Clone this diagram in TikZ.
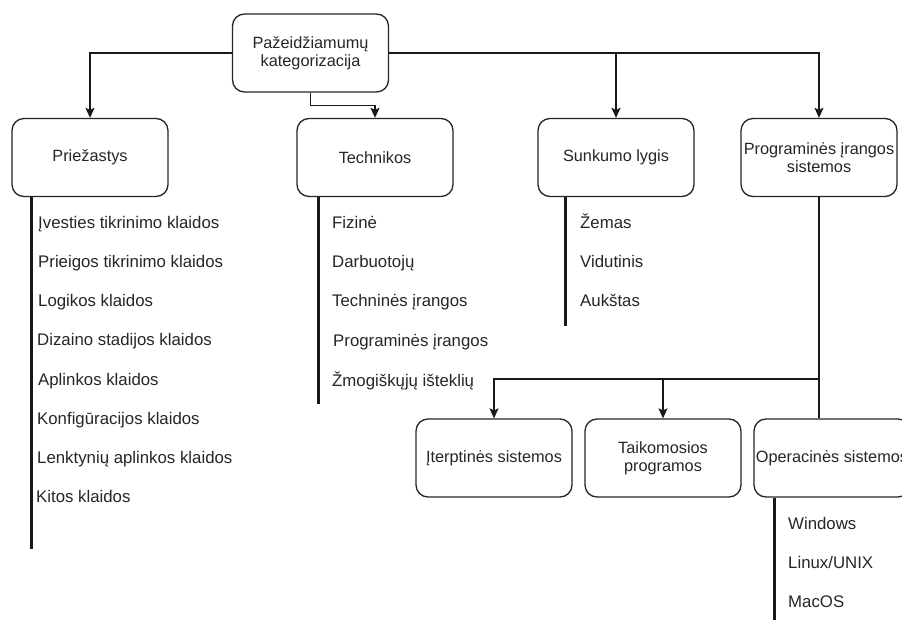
\documentclass[tikz,border=0pt]{standalone}
\usepackage{fontspec}
\setmainfont{Liberation Sans}
\usetikzlibrary{arrows.meta}
\begin{document}
\begin{tikzpicture}[x=1pt,y=-1pt,
  box/.style={draw=black!85, line width=1.3pt, rounded corners=12pt,
    minimum width=156pt, minimum height=78pt, align=center, inner sep=0pt,
    text=black!85, font=\fontsize{16.3}{18}\selectfont},
  item/.style={anchor=base west, inner sep=0pt, text=black!85,
    font=\fontsize{16.8}{18}\selectfont},
  link/.style={draw=black!90, line width=1.3pt},
  arr/.style={link, -{Stealth[length=10pt,width=9pt,inset=2pt]}},
  bar/.style={draw=black!90, line width=3pt}]
\clip (0,0) rectangle (902,620);
\fill[white] (0,0) rectangle (902,620);

% category boxes
\node[box] (root) at (310.5,53)  {Pažeidžiamumų\\kategorizacija};
\node[box] (pz)   at (90,157.5)  {Priežastys};
\node[box] (te)   at (375,157.5) {Technikos};
\node[box] (su)   at (616,157.5) {Sunkumo lygis};
\node[box] (pg)   at (819,157.5) {Programinės įrangos\\sistemos};
\node[box] (it)   at (494,458)   {Įterptinės sistemos};
\node[box] (ta)   at (663,458)   {Taikomosios\\programos};
\node[box] (op)   at (832,458)   {Operacinės sistemos};

% connectors from the root
\draw[arr] (root.west) -| (pz.north);
\draw[arr] (root.south) -- ++(0,13) -| (te.north);
\draw[arr] (root.east) -| (su.north);
\draw[arr] (root.east) -| (pg.north);

% software systems split
\coordinate (split) at (819,379);
\draw[link] (pg.south) -- (pg.south |- op.north);
\draw[arr] (split) -| (it.north);
\draw[arr] (ta.north |- split) -- (ta.north);

% list bars
\coordinate (pzend) at (31,549);
\coordinate (teend) at (318,404);
\coordinate (suend) at (565,326);
\coordinate (opend) at (774,620);
\draw[bar] (pz.south -| pzend) -- (pzend);
\draw[bar] (te.south -| teend) -- (teend);
\draw[bar] (su.south -| suend) -- (suend);
\draw[bar] (op.south -| opend) -- (opend);

% causes
\node[item] (p1) at (38,229) {Įvesties tikrinimo klaidos};
\node[item] (p2) at (38,268) {Prieigos tikrinimo klaidos};
\node[item] (p3) at (38,306) {Logikos klaidos};
\node[item] (p4) at (37,345) {Dizaino stadijos klaidos};
\node[item] (p5) at (38,385) {Aplinkos klaidos};
\node[item] (p6) at (37,424) {Konfigūracijos klaidos};
\node[item] (p7) at (37,463) {Lenktynių aplinkos klaidos};
\node[item] (p8) at (36,502) {Kitos klaidos};

% techniques
\node[item] (t1) at (332,229) {Fizinė};
\node[item] (t2) at (332,268) {Darbuotojų};
\node[item] (t3) at (332,307) {Techninės įrangos};
\node[item] (t4) at (333,346) {Programinės įrangos};
\node[item] (t5) at (332,386) {Žmogiškųjų išteklių};

% severity
\node[item] (s1) at (580,229) {Žemas};
\node[item] (s2) at (580,268) {Vidutinis};
\node[item] (s3) at (580,306) {Aukštas};

% operating systems
\node[item] (o1) at (788,529) {Windows};
\node[item] (o2) at (788,568) {Linux/UNIX};
\node[item] (o3) at (788,607) {MacOS};
\end{tikzpicture}
\end{document}
